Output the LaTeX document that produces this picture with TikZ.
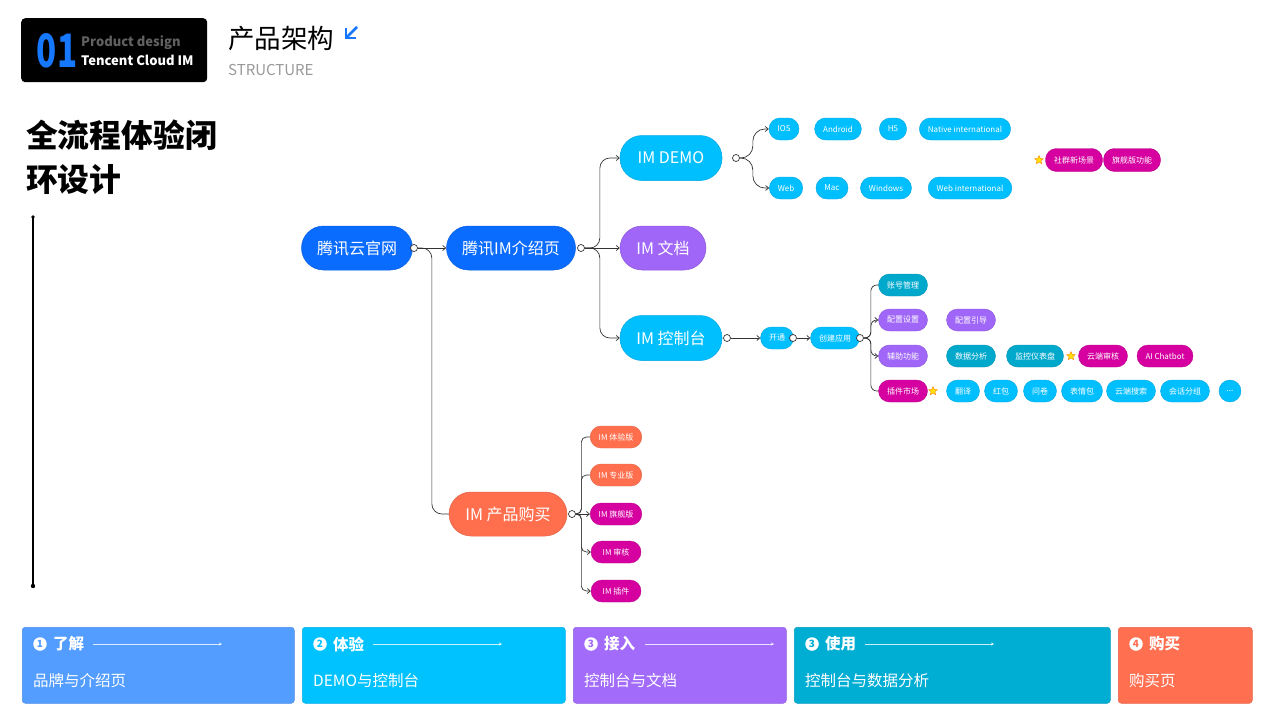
\documentclass[tikz,border=0pt]{standalone}
\usepackage{fontspec}
\setmainfont{Noto Sans CJK SC}
\usetikzlibrary{arrows.meta,shapes.geometric}
\newcommand\myfs[1]{\fontsize{#1}{#1}\selectfont}
\definecolor{cBlue}{HTML}{0A6CFF}
\definecolor{cCyan}{HTML}{00BFFF}
\definecolor{cPurple}{HTML}{A066F8}
\definecolor{cTeal}{HTML}{00A8CC}
\definecolor{cOrange}{HTML}{FF6F4E}
\definecolor{cMag}{HTML}{D5009F}
\definecolor{cBoxA}{HTML}{529DFF}
\definecolor{cBoxB}{HTML}{00C2FF}
\definecolor{cBoxC}{HTML}{A26BFA}
\definecolor{cBoxD}{HTML}{00ADD3}
\definecolor{cBoxE}{HTML}{FF6F50}
\definecolor{cNum}{HTML}{1677FF}
\definecolor{cLine}{HTML}{333333}
\begin{document}
\begin{tikzpicture}[x=1pt,y=-1pt,
  big/.style={rounded corners=22pt, minimum height=44pt, text=white, font=\myfs{16},
    inner sep=0pt, fill=#1, draw=#1!88!black, line width=0.5pt},
  small/.style={rounded corners=11pt, minimum height=22pt, inner xsep=8.5pt, inner ysep=0pt,
    text=white, font=\myfs{8}, fill=#1, draw=#1!88!black, line width=0.4pt},
  dotc/.style={circle, draw=cLine, fill=white, line width=0.7pt, minimum size=7pt, inner sep=0pt},
  conn/.style={draw=cLine, line width=0.7pt, -{Straight Barb[length=3pt,width=5pt]}},
  plain/.style={draw=cLine, line width=0.7pt},
  starico/.style={star, star points=5, star point ratio=2.2, fill=yellow!85!orange,
    draw=orange, line width=0.4pt, minimum size=9pt, inner sep=0pt},
  bbox/.style={fill=#1, draw=#1!90!black, line width=0.5pt, rounded corners=3pt,
    minimum height=76pt, anchor=north west},
  numc/.style={circle, fill=white, inner sep=0pt, minimum size=13.5pt, font=\bfseries\myfs{10}},
  bhead/.style={anchor=west, inner sep=0pt, text=white, font=\bfseries\myfs{15.5}},
  btext/.style={anchor=west, inner sep=0pt, text=white, font=\myfs{15.5}},
  barr/.style={draw=white, draw opacity=0.8, line width=0.8pt, -{Stealth[length=3pt,width=3pt]}}
]
\useasboundingbox (0,0) rectangle (1280,720);

% header
\node[fill=black, rounded corners=4pt, minimum width=186pt, minimum height=64pt, anchor=north west, inner sep=0pt] (hdr) at (21,18) {};
\node[font=\bfseries\myfs{46}, text=cNum, inner sep=0pt] (h01) at (57,51) {\scalebox{0.72}[1]{01}};
\node[anchor=west, text=black!62, font=\bfseries\myfs{13}, inner sep=0pt] (hpd) at (81,43) {Product design};
\node[anchor=west, text=white, font=\bfseries\myfs{13}, inner sep=0pt] (htc) at (81,60) {Tencent Cloud IM};
\node[anchor=west, font=\myfs{26.5}, inner sep=0pt] (htitle) at (228,39) {产品架构};
\node[anchor=west, text=black!40, font=\myfs{15}, inner sep=0pt] (hstruct) at (228,70) {STRUCTURE};
\coordinate (ia) at (357,27); \coordinate (ib) at (347,37);
\coordinate (ic) at (346,28); \coordinate (id) at (346,38); \coordinate (ie) at (356,38);
\draw[cNum, line width=2.6pt] (ia) -- (ib);
\draw[cNum, line width=2.6pt] (ic) -- (id) -- (ie);

% left title
\node[anchor=west, font=\bfseries\myfs{31.8}, inner sep=0pt] (t1) at (26,135) {全流程体验闭};
\node[anchor=west, font=\bfseries\myfs{31.8}, inner sep=0pt] (t2) at (26,180) {环设计};
\coordinate (lt) at (33,217); \coordinate (lb) at (33,586);
\draw[line width=1.2pt] (lt) -- (lb);
\fill (lt) circle (1.8pt);
\fill (lb) circle (2.2pt);

% main nodes
\node[big=cBlue, minimum width=111pt] (n1) at (357,248) {腾讯云官网};
\node[big=cBlue, minimum width=129pt] (n2) at (511,248) {腾讯IM介绍页};
\node[big=cCyan, minimum width=102pt, minimum height=45pt] (n3) at (671,158) {IM DEMO};
\node[big=cPurple, minimum width=86pt] (n4) at (663,248) {IM 文档};
\node[big=cCyan, minimum width=102pt, minimum height=45pt] (n5) at (671,338) {IM 控制台};
\node[big=cOrange, minimum width=118pt] (n6) at (508,514) {IM 产品购买};

% DEMO children
\node[small=cCyan] (ios) at (784,129) {IOS};
\node[small=cCyan] (and) at (838,129) {Android};
\node[small=cCyan] (h5) at (893,129) {H5};
\node[small=cCyan] (nat) at (965,129) {Native international};
\node[small=cCyan] (web) at (786,188) {Web};
\node[small=cCyan] (mac) at (832,188) {Mac};
\node[small=cCyan] (win) at (886,188) {Windows};
\node[small=cCyan] (wint) at (970,188) {Web international};
\node[starico] (s1) at (1039,160) {};
\node[small=cMag, minimum height=23pt] (sq) at (1074,160) {社群新场景};
\node[small=cMag, minimum height=23pt] (qj) at (1132,160) {旗舰版功能};

% console chain
\node[small=cCyan, minimum width=30pt] (kt) at (777,338) {开通};
\node[small=cCyan, minimum width=45pt] (cj) at (835,338) {创建应用};
\node[small=cTeal] (zh) at (903,285) {账号管理};
\node[small=cPurple] (pz) at (903,320) {配置设置};
\node[small=cPurple] (fz) at (903,356) {辅助功能};
\node[small=cMag] (cs) at (903,391) {插件市场};
\node[small=cPurple] (yd) at (971,320) {配置引导};
\node[small=cTeal] (sj) at (971,356) {数据分析};
\node[small=cTeal] (jk) at (1035,356) {监控仪表盘};
\node[starico] (s2) at (1071,356) {};
\node[small=cMag] (sh) at (1103,356) {云端审核};
\node[small=cMag] (ai) at (1165,356) {AI Chatbot};
\node[starico] (s3) at (933,391) {};
\node[small=cCyan] (fy) at (963,391) {翻译};
\node[small=cCyan] (hb) at (1001,391) {红包};
\node[small=cCyan] (wj) at (1040,391) {问卷};
\node[small=cCyan] (bq) at (1082,391) {表情包};
\node[small=cCyan] (ss) at (1131,391) {云端搜索};
\node[small=cCyan] (hh) at (1185,391) {会话分组};
\node[small=cCyan, minimum width=22pt, inner xsep=0pt] (dots) at (1230,391) {...};

% purchase children
\node[small=cOrange, minimum width=50pt] (p1) at (616,437) {IM 体验版};
\node[small=cOrange, minimum width=50pt] (p2) at (616,475) {IM 专业版};
\node[small=cMag, minimum width=50pt] (p3) at (616,514) {IM 旗舰版};
\node[small=cMag, minimum width=50pt] (p4) at (616,552) {IM 审核};
\node[small=cMag, minimum width=50pt] (p5) at (616,591) {IM 插件};

% circles
\node[dotc] (c1) at (414,248) {};
\node[dotc] (c2) at (581,248) {};
\node[dotc] (c3) at (736,158) {};
\node[dotc] (c4) at (727,338) {};
\node[dotc] (c5) at (793,338) {};
\node[dotc] (c6) at (860,338) {};
\node[dotc] (c7) at (572,514) {};

% connectors
\draw[conn] (c1.east) -- (n2.west);
\draw[plain, rounded corners=10pt] (c1.east) -- ++(14,0) |- (n6.west);
\draw[conn, rounded corners=10pt] (c2.east) -- ++(15,0) |- (n3.west);
\draw[conn] (c2.east) -- (n4.west);
\draw[conn, rounded corners=10pt] (c2.east) -- ++(15,0) |- (n5.west);
\draw[conn, rounded corners=12pt] (c3.east) -- ++(13,0) |- (ios.west);
\draw[conn, rounded corners=12pt] (c3.east) -- ++(13,0) |- (web.west);
\draw[conn] (c4.east) -- (kt.west);
\draw[conn] (c5.east) -- (cj.west);
\draw[plain, rounded corners=6pt] (c6.east) -- ++(7,0) |- (zh.west);
\draw[conn, rounded corners=6pt] (c6.east) -- ++(7,0) |- (pz.west);
\draw[conn, rounded corners=6pt] (c6.east) -- ++(7,0) |- (fz.west);
\draw[plain, rounded corners=6pt] (c6.east) -- ++(7,0) |- (cs.west);
\draw[plain, rounded corners=5pt] (c7.east) -- ++(5.5,0) |- (p1.west);
\draw[plain, rounded corners=5pt] (c7.east) -- ++(5.5,0) |- (p2.west);
\draw[conn] (c7.east) -- (p3.west);
\draw[conn, rounded corners=5pt] (c7.east) -- ++(5.5,0) |- (p4.west);
\draw[conn, rounded corners=5pt] (c7.east) -- ++(5.5,0) |- (p5.west);

% bottom boxes
\node[bbox=cBoxA, minimum width=272pt] (b1) at (22,627) {};
\node[bbox=cBoxB, minimum width=263pt] (b2) at (302,627) {};
\node[bbox=cBoxC, minimum width=213pt] (b3) at (573,627) {};
\node[bbox=cBoxD, minimum width=316pt] (b4) at (794,627) {};
\node[bbox=cBoxE, minimum width=134pt] (b5) at (1118,627) {};

\node[numc, text=cBoxA] (b1n) at ([xshift=18pt,yshift=-17pt]b1.north west) {1};
\node[bhead] (b1h) at ([xshift=31pt,yshift=-17pt]b1.north west) {了解};
\coordinate (b1s) at ([xshift=71pt,yshift=-17pt]b1.north west);
\coordinate (b1e) at ([xshift=200pt,yshift=-17pt]b1.north west);
\draw[barr] (b1s) -- (b1e);
\node[btext] (b1t) at ([xshift=11pt,yshift=-54pt]b1.north west) {品牌与介绍页};

\node[numc, text=cBoxB] (b2n) at ([xshift=18pt,yshift=-17pt]b2.north west) {2};
\node[bhead] (b2h) at ([xshift=31pt,yshift=-17pt]b2.north west) {体验};
\coordinate (b2s) at ([xshift=71pt,yshift=-17pt]b2.north west);
\coordinate (b2e) at ([xshift=200pt,yshift=-17pt]b2.north west);
\draw[barr] (b2s) -- (b2e);
\node[btext] (b2t) at ([xshift=11pt,yshift=-54pt]b2.north west) {DEMO与控制台};

\node[numc, text=cBoxC] (b3n) at ([xshift=18pt,yshift=-17pt]b3.north west) {3};
\node[bhead] (b3h) at ([xshift=31pt,yshift=-17pt]b3.north west) {接入};
\coordinate (b3s) at ([xshift=72pt,yshift=-17pt]b3.north west);
\coordinate (b3e) at ([xshift=201pt,yshift=-17pt]b3.north west);
\draw[barr] (b3s) -- (b3e);
\node[btext] (b3t) at ([xshift=11pt,yshift=-54pt]b3.north west) {控制台与文档};

\node[numc, text=cBoxD] (b4n) at ([xshift=18pt,yshift=-17pt]b4.north west) {3};
\node[bhead] (b4h) at ([xshift=31pt,yshift=-17pt]b4.north west) {使用};
\coordinate (b4s) at ([xshift=71pt,yshift=-17pt]b4.north west);
\coordinate (b4e) at ([xshift=200pt,yshift=-17pt]b4.north west);
\draw[barr] (b4s) -- (b4e);
\node[btext] (b4t) at ([xshift=11pt,yshift=-54pt]b4.north west) {控制台与数据分析};

\node[numc, text=cBoxE] (b5n) at ([xshift=18pt,yshift=-17pt]b5.north west) {4};
\node[bhead] (b5h) at ([xshift=31pt,yshift=-17pt]b5.north west) {购买};
\node[btext] (b5t) at ([xshift=11pt,yshift=-54pt]b5.north west) {购买页};
\end{tikzpicture}
\end{document}
